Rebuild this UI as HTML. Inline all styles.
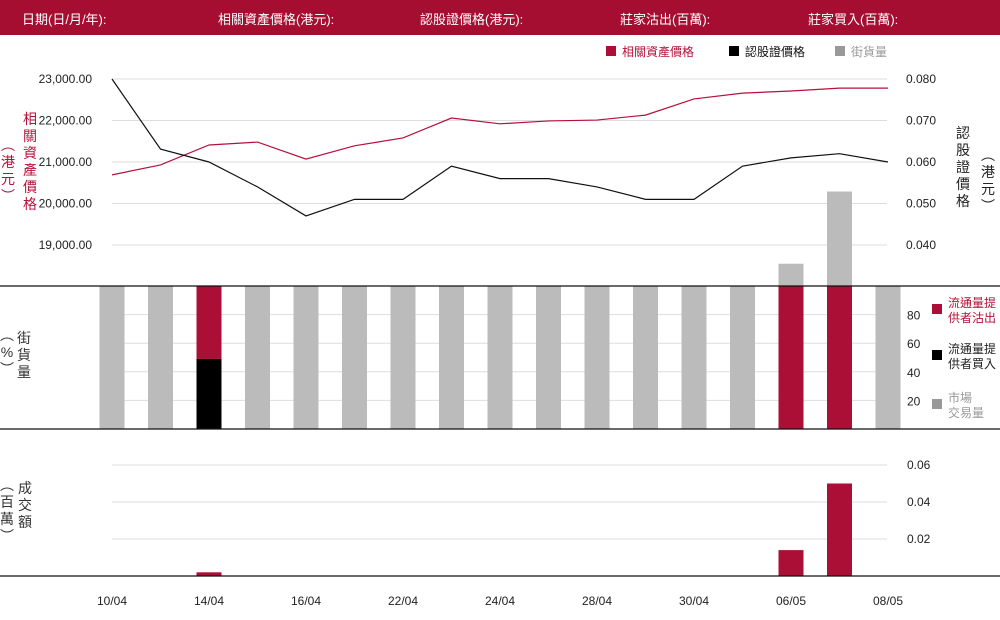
<!DOCTYPE html>
<html><head><meta charset="utf-8"><style>
body{margin:0;background:#fff;width:1000px;height:620px;overflow:hidden;font-family:"Liberation Sans","Noto Sans CJK TC",sans-serif}
#hdr{position:absolute;left:0;top:0;width:1000px;height:35px;background:#a50e31}
#hdr span{position:absolute;top:9px;color:#fff;font-size:13px}
svg{position:absolute;left:0;top:0}
</style></head><body>
<div id="hdr">
<span style="left:22px">日期(日/月/年):</span>
<span style="left:218px">相關資產價格(港元):</span>
<span style="left:420px">認股證價格(港元):</span>
<span style="left:620px">莊家沽出(百萬):</span>
<span style="left:808px">莊家買入(百萬):</span>
</div>
<svg id="c" width="1000" height="620"></svg>
<script>
const dates=["10/04","","14/04","","16/04","","22/04","","24/04","","28/04","","30/04","","06/05","","08/05"];
const underlying=[20690,20930,21410,21480,21070,21390,21580,22060,21920,21990,22010,22130,22520,22660,22710,22780,22780];
const warrant=[0.080,0.0631,0.060,0.054,0.047,0.051,0.051,0.059,0.056,0.056,0.054,0.051,0.051,0.059,0.061,0.062,0.060];
const outstanding=[0,0,0,0,0,0,0,0,0,0,0,0,0,0,5.3,22.5,0];
const lpSell=[0,0,51,0,0,0,0,0,0,0,0,0,0,0,100,100,0];
const lpBuy=[0,0,49,0,0,0,0,0,0,0,0,0,0,0,0,0,0];
const turnover=[0,0,0.002,0,0,0,0,0,0,0,0,0,0,0,0.014,0.050,0];
const leftTicks=[23000,22000,21000,20000,19000];
const rightTicks=[0.080,0.070,0.060,0.050,0.040];
const midTicks=[80,60,40,20];
const botTicks=[0.06,0.04,0.02];
const NS="http://www.w3.org/2000/svg";
const svg=document.getElementById('c');
function mk(t,a,txt){const e=document.createElementNS(NS,t);for(const k in a)e.setAttribute(k,a[k]);if(txt!==undefined)e.textContent=txt;svg.appendChild(e);return e;}
const X=i=>112+i*48.5;
const yL=v=>79+(23000-v)/1000*41.5;
const yR=v=>79+(0.080-v)/0.01*41.5;
const yM=v=>429-v*1.43;
const yB=v=>576-v/0.02*37;
const yO=v=>286-v*4.2;
const BW=25;
const F='"Liberation Sans","Noto Sans CJK TC",sans-serif';
// top grid
leftTicks.forEach((t,i)=>{
 const g=mk('line',{x1:112,x2:887,y1:yL(t),y2:yL(t),stroke:'#ddd'});
 
 const l=mk('text',{x:92,y:yL(t)+4,'text-anchor':'end','font-size':12,fill:'#222','font-family':F},t.toLocaleString('en-US',{minimumFractionDigits:2}));
 
});
rightTicks.forEach(t=>{
 const l=mk('text',{x:906,y:yR(t)+4,'font-size':12,fill:'#222','font-family':F},t.toFixed(3));
 
});
// outstanding bars top
outstanding.forEach((v,i)=>{if(v>0){const r=mk('rect',{x:X(i)-BW/2,y:yO(v),width:BW,height:286-yO(v),fill:'#bbb'});
 }});
// lines
let p=mk('polyline',{points:underlying.map((v,i)=>X(i)+','+yL(v)).join(' '),fill:'none',stroke:'#b5103a','stroke-width':1.2});

p=mk('polyline',{points:warrant.map((v,i)=>X(i)+','+yR(v)).join(' '),fill:'none',stroke:'#111','stroke-width':1.2});

// mid panel
midTicks.forEach(t=>{
 const g=mk('line',{x1:100,x2:900,y1:yM(t),y2:yM(t),stroke:'#ddd'});
 
 const l=mk('text',{x:907,y:yM(t)+5,'font-size':12,fill:'#222','font-family':F},t);
 
});
dates.forEach((d,i)=>{
 const market=100-lpSell[i]-lpBuy[i];
 if(market>0){const r=mk('rect',{x:X(i)-BW/2,y:yM(100),width:BW,height:yM(0)-yM(market),fill:'#bbb'});
  }
 if(lpSell[i]>0){const r=mk('rect',{x:X(i)-BW/2,y:yM(100-market),width:BW,height:yM(0)-yM(lpSell[i]),fill:'#ab0f35'});
  }
 if(lpBuy[i]>0){const r=mk('rect',{x:X(i)-BW/2,y:yM(lpBuy[i]),width:BW,height:yM(0)-yM(lpBuy[i]),fill:'#000'});
  }
});
// bottom panel
botTicks.forEach(t=>{
 const g=mk('line',{x1:112,x2:887,y1:yB(t),y2:yB(t),stroke:'#ddd'});
 
 const l=mk('text',{x:907,y:yB(t)+4,'font-size':12,fill:'#222','font-family':F},t.toFixed(2));
 
});
turnover.forEach((v,i)=>{if(v>0){const r=mk('rect',{x:X(i)-BW/2,y:yB(v),width:BW,height:576-yB(v),fill:'#ab0f35'});
 }});
dates.forEach((d,i)=>{if(d){const l=mk('text',{x:X(i),y:605,'text-anchor':'middle','font-size':12,fill:'#222','font-family':F},d);
 }});
// separators
[286,429,576].forEach(y=>{const l=mk('line',{x1:0,x2:1000,y1:y,y2:y,stroke:'#111','stroke-width':1.3});
 });
// vertical titles
function vt(x,y0,chars,col,size,name){chars.split('').forEach((c,k)=>{const t=mk('text',{x:x,y:y0+k*(size+3),'text-anchor':'middle','font-size':size,fill:col,'font-family':F},c);
 });}
vt(30,124,'相關資產價格','#b5103a',14,'left-axis-title');
vt(8,150,'︵港元︶','#b5103a',14,'left-axis-unit');
vt(963,138,'認股證價格','#222',14,'right-axis-title');
vt(988,160,'︵港元︶','#222',14,'right-axis-unit');
vt(24,343,'街貨量','#333',14,'mid-axis-title');
vt(7,340,'︵%︶','#333',14,'mid-axis-unit');
vt(25,493,'成交額','#333',14,'bottom-axis-title');
vt(7,490,'︵百萬︶','#333',14,'bottom-axis-unit');
// legends
function lg(x,y,col,tcol,lines,name){const r=mk('rect',{x:x,y:y-10,width:10,height:10,fill:col});
 
 lines.forEach((s,k)=>{const t=mk('text',{x:x+16,y:y+k*15-(lines.length-1)*7,'font-size':12,fill:tcol,'font-family':F},s);
 });}
lg(606,56,'#ab0f35','#b5103a',['相關資產價格'],'legend-underlying');
lg(729,56,'#000','#111',['認股證價格'],'legend-warrant');
lg(835,56,'#999','#999',['街貨量'],'legend-outstanding');
lg(932,314,'#ab0f35','#b5103a',['流通量提','供者沽出'],'legend-lp-sell');
lg(932,360,'#000','#222',['流通量提','供者買入'],'legend-lp-buy');
lg(932,409,'#999','#999',['市場','交易量'],'legend-market');
</script>
</body></html>
